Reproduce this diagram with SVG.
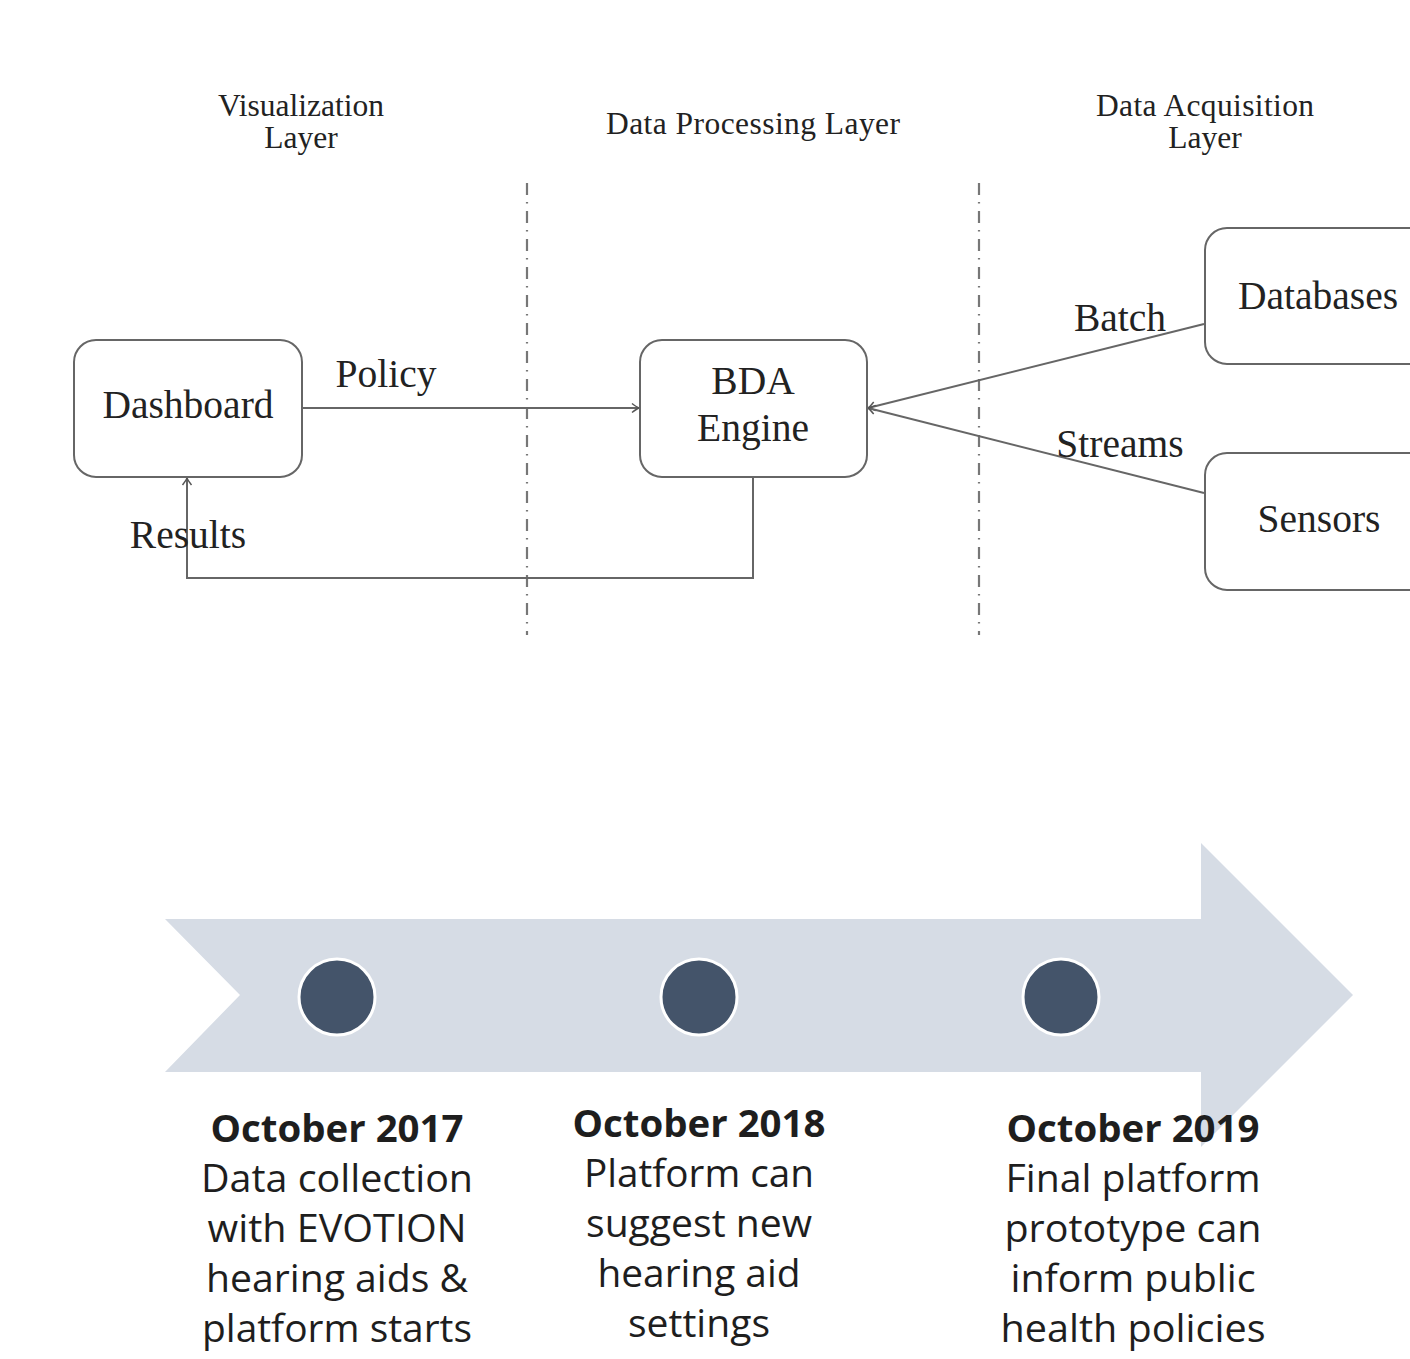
<svg xmlns="http://www.w3.org/2000/svg" width="1410" height="1359" viewBox="0 0 1410 1359">
<style>
.serif{font-family:"Liberation Serif","Times New Roman",serif;fill:#222;}
.hdr{font-size:31.5px;}
.lbl{font-size:39.5px;}
.box{fill:#fff;stroke:#666;stroke-width:2;}
.conn{fill:none;stroke:#666;stroke-width:2;}
.sep{fill:none;stroke:#777;stroke-width:2.2;stroke-dasharray:12 7 1.5 7.5;}
.tl{font-family:"Open Sans","Noto Sans","Liberation Sans",sans-serif;fill:#1e1e1e;text-anchor:middle;}
.tlb{font-size:38px;font-weight:bold;}
.tlr{font-size:38px;}
.dot{fill:#44546A;stroke:#fff;stroke-width:3;}
</style>
<defs>
<marker id="arr" markerWidth="12" markerHeight="12" refX="10" refY="6" orient="auto" markerUnits="userSpaceOnUse">
<path d="M3 1.5 Q8 5.3 10 6 Q8 6.7 3 10.5" fill="none" stroke="#555" stroke-width="1.5"/>
</marker>
</defs>
<rect width="1410" height="1359" fill="#fff"/>

<g id="headers" class="serif hdr" text-anchor="middle">
<text x="301" y="116" textLength="166">Visualization</text>
<text x="301" y="148">Layer</text>
<text x="753" y="134" textLength="294">Data Processing Layer</text>
<text x="1205" y="116" textLength="218">Data Acquisition</text>
<text x="1205" y="148">Layer</text>
</g>

<g id="separators">
<line class="sep" x1="527" y1="183" x2="527" y2="635"/>
<line class="sep" x1="979" y1="183" x2="979" y2="635"/>
</g>

<g id="connectors">
<line class="conn" x1="302" y1="408" x2="639" y2="408" marker-end="url(#arr)"/>
<polyline class="conn" points="753,477 753,578 187,578 187,478" marker-end="url(#arr)"/>
<line class="conn" x1="1204" y1="324" x2="868" y2="408" marker-end="url(#arr)"/>
<line class="conn" x1="1204" y1="493" x2="868" y2="408" marker-end="url(#arr)"/>
</g>

<g id="connector-labels" class="serif lbl" text-anchor="middle">
<text x="386" y="387">Policy</text>
<text x="188" y="548">Results</text>
<text x="1120" y="331">Batch</text>
<text x="1120" y="457">Streams</text>
</g>

<g id="node-dashboard">
<rect class="box" x="74" y="340" width="228" height="137" rx="22"/>
<text class="serif lbl" x="188" y="418" text-anchor="middle">Dashboard</text>
</g>
<g id="node-bda">
<rect class="box" x="640" y="340" width="227" height="137" rx="22"/>
<text class="serif lbl" x="753" y="394" text-anchor="middle">BDA</text>
<text class="serif lbl" x="753" y="441" text-anchor="middle">Engine</text>
</g>
<g id="node-databases">
<rect class="box" x="1205" y="228" width="240" height="136" rx="22"/>
<text class="serif lbl" x="1318" y="309" text-anchor="middle">Databases</text>
</g>
<g id="node-sensors">
<rect class="box" x="1205" y="453" width="240" height="137" rx="22"/>
<text class="serif lbl" x="1319" y="532" text-anchor="middle">Sensors</text>
</g>

<g id="timeline-arrow">
<polygon points="165,919 1201,919 1201,843 1353,995 1201,1147 1201,1072 165,1072 240,995" fill="#D6DCE5"/>
</g>
<g id="milestone-1">
<circle class="dot" cx="337" cy="997" r="38"/>
<g class="tl">
<text class="tlb" x="337" y="1142" textLength="253" lengthAdjust="spacingAndGlyphs">October 2017</text>
<text class="tlr" x="337" y="1192" textLength="272" lengthAdjust="spacingAndGlyphs">Data collection</text>
<text class="tlr" x="337" y="1242" textLength="259" lengthAdjust="spacingAndGlyphs">with EVOTION</text>
<text class="tlr" x="337" y="1292" textLength="262" lengthAdjust="spacingAndGlyphs">hearing aids &amp;</text>
<text class="tlr" x="337" y="1342" textLength="270" lengthAdjust="spacingAndGlyphs">platform starts</text>
</g>
</g>
<g id="milestone-2">
<circle class="dot" cx="699" cy="997" r="38"/>
<g class="tl">
<text class="tlb" x="699" y="1137" textLength="253" lengthAdjust="spacingAndGlyphs">October 2018</text>
<text class="tlr" x="699" y="1187" textLength="230" lengthAdjust="spacingAndGlyphs">Platform can</text>
<text class="tlr" x="699" y="1237" textLength="226" lengthAdjust="spacingAndGlyphs">suggest new</text>
<text class="tlr" x="699" y="1287" textLength="203" lengthAdjust="spacingAndGlyphs">hearing aid</text>
<text class="tlr" x="699" y="1337" textLength="142" lengthAdjust="spacingAndGlyphs">settings</text>
</g>
</g>
<g id="milestone-3">
<circle class="dot" cx="1061" cy="997" r="38"/>
<g class="tl">
<text class="tlb" x="1133" y="1142" textLength="253" lengthAdjust="spacingAndGlyphs">October 2019</text>
<text class="tlr" x="1133" y="1192" textLength="255" lengthAdjust="spacingAndGlyphs">Final platform</text>
<text class="tlr" x="1133" y="1242" textLength="257" lengthAdjust="spacingAndGlyphs">prototype can</text>
<text class="tlr" x="1133" y="1292" textLength="245" lengthAdjust="spacingAndGlyphs">inform public</text>
<text class="tlr" x="1133" y="1342" textLength="265" lengthAdjust="spacingAndGlyphs">health policies</text>
</g>
</g>
</svg>
